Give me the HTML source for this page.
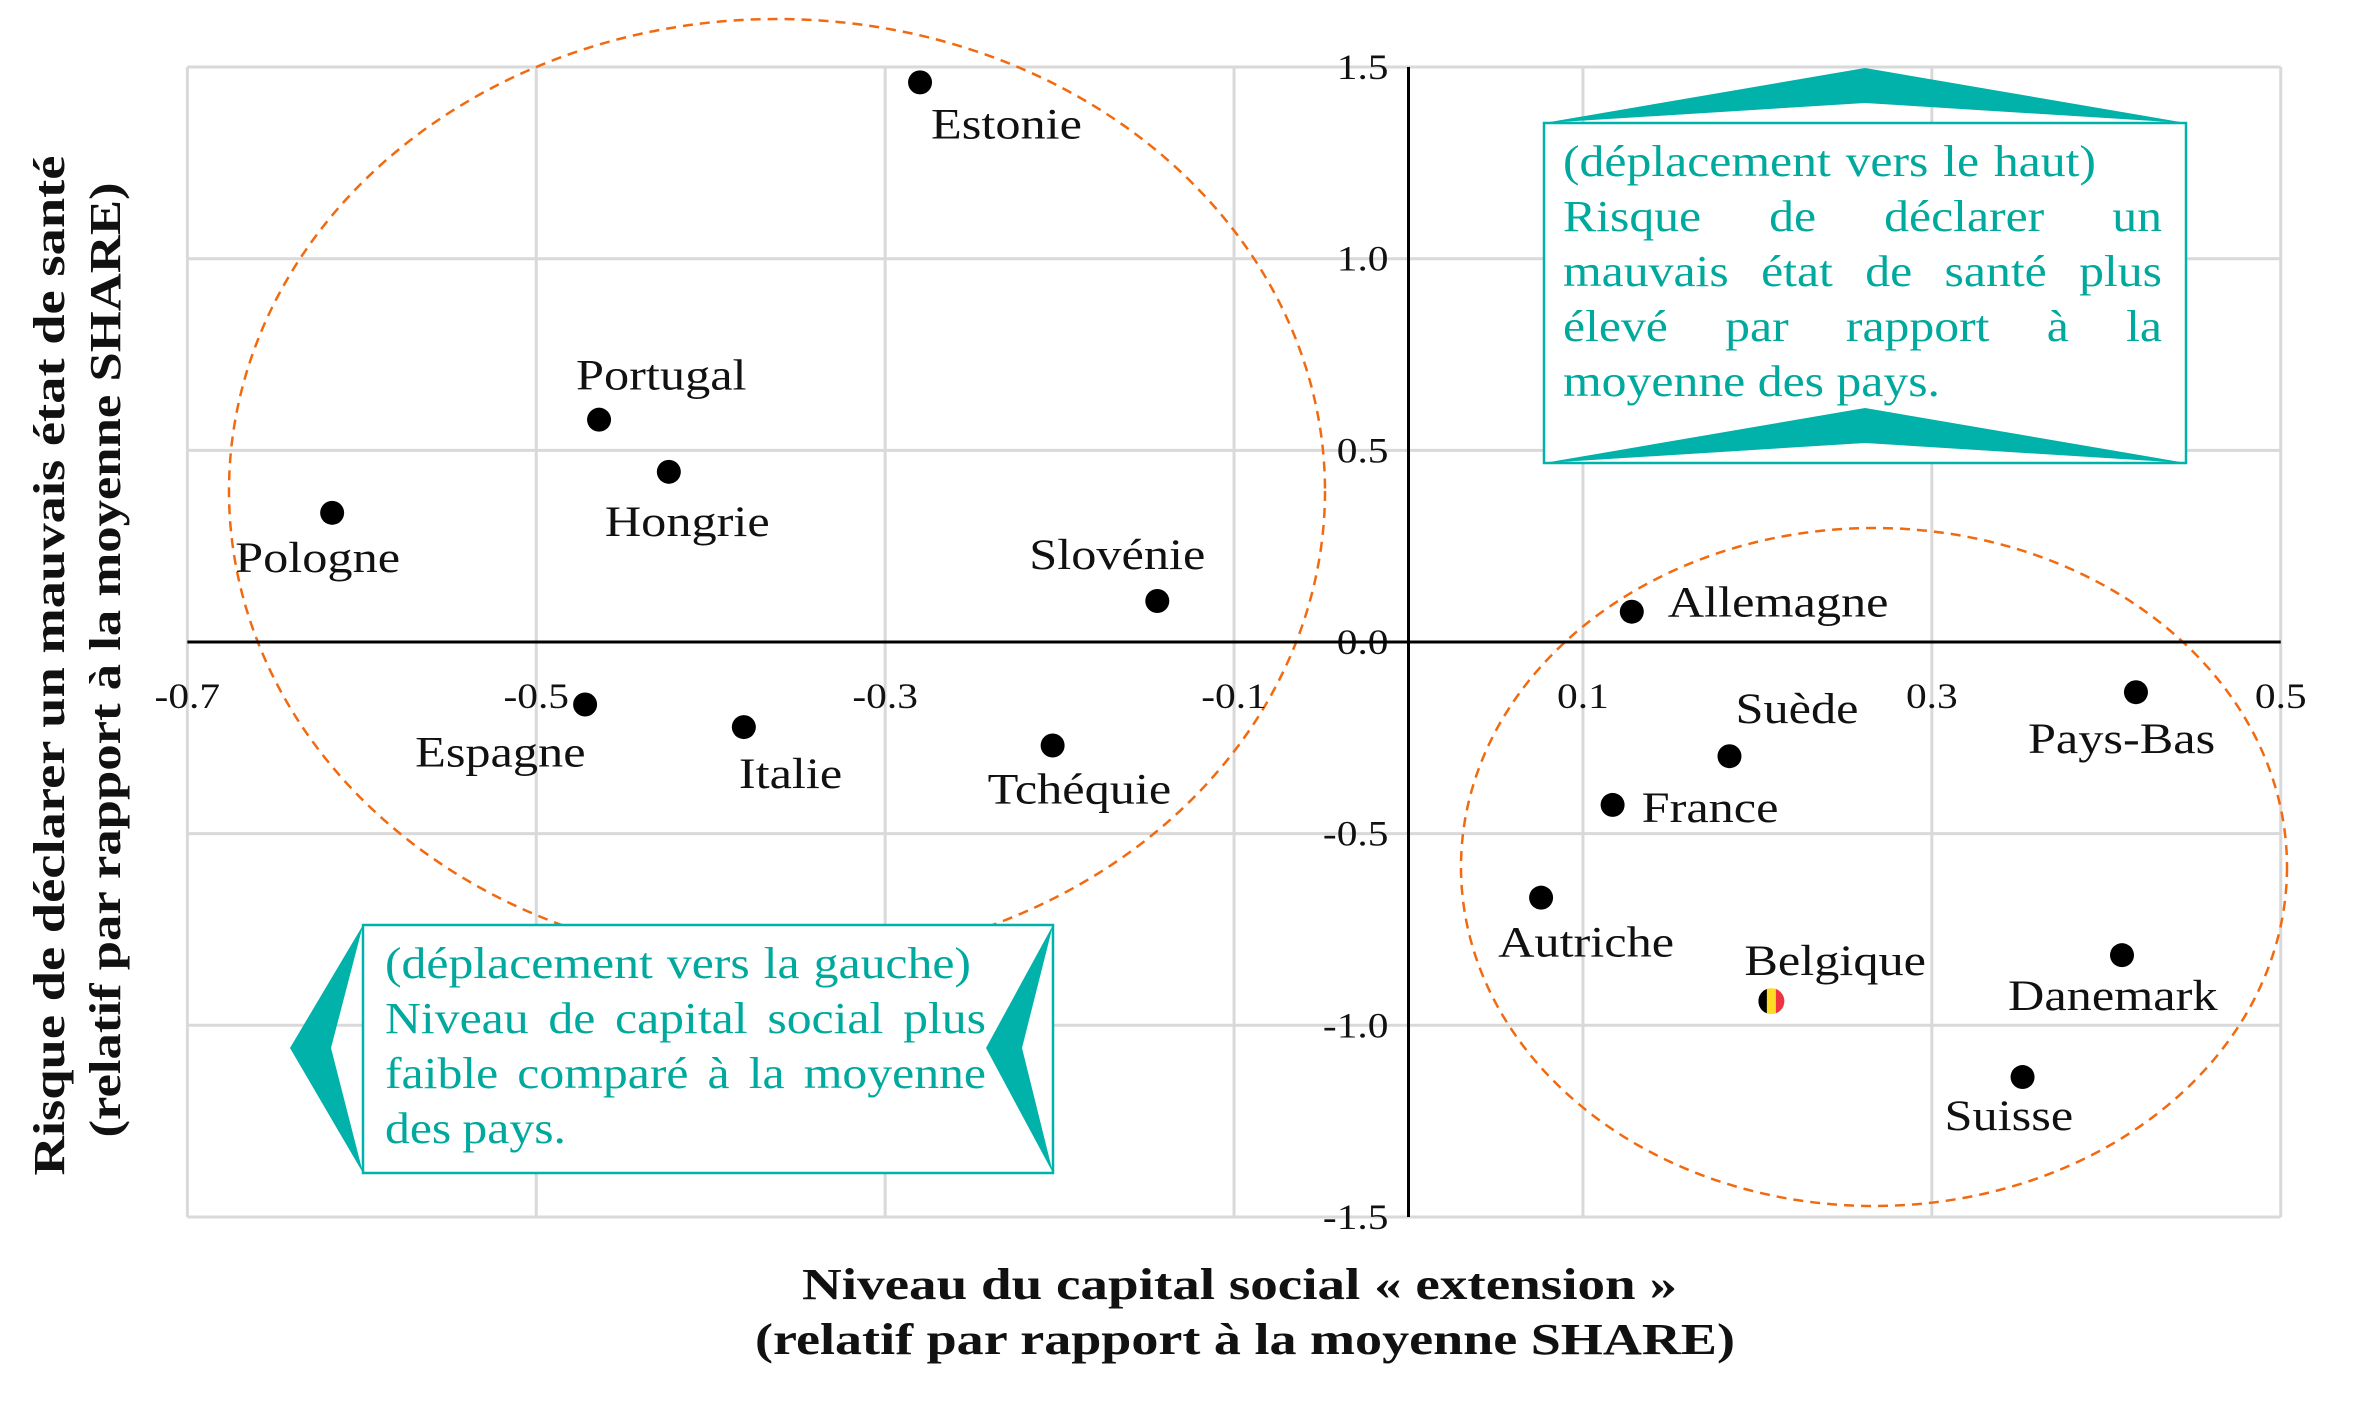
<!DOCTYPE html>
<html><head><meta charset="utf-8"><style>
html,body{margin:0;padding:0;background:#fff;}
svg{display:block;font-family:"Liberation Serif",serif;}
</style></head><body>
<svg id="chart" width="2378" height="1403" viewBox="0 0 2378 1403" xmlns="http://www.w3.org/2000/svg">
<defs><clipPath id="beclip"><circle id="beclipc" cx="0" cy="0" r="13"/></clipPath></defs>
<g id="grid"></g>
<g id="ellipses">
<ellipse cx="777" cy="491" rx="548" ry="472" fill="none" stroke="#f26a10" stroke-width="2.5" stroke-dasharray="10,7"/>
<ellipse cx="1874" cy="867" rx="413" ry="339" fill="none" stroke="#f26a10" stroke-width="2.5" stroke-dasharray="10,7"/>
</g>
<g id="axes"></g>
<g id="points"></g>

<g>
<rect x="1544" y="123" width="642" height="340" fill="#fff" stroke="#00b2a9" stroke-width="2.5"/>
<polygon points="1544,123 1865,68 2186,123 1865,103" fill="#00b2a9"/>
<polygon points="1544,463 1865,408 2186,463 1865,443" fill="#00b2a9"/>
<text id="upText" fill="#00a99d" font-size="44">
<tspan data-w="533" x="1563" y="176">(déplacement vers le haut)</tspan>
<tspan data-w="599" data-j="1" x="1563" y="231">Risque de déclarer un</tspan>
<tspan data-w="599" data-j="1" x="1563" y="286">mauvais état de santé plus</tspan>
<tspan data-w="599" data-j="1" x="1563" y="341">élevé par rapport à la</tspan>
<tspan data-w="377" x="1563" y="396">moyenne des pays.</tspan>
</text>
</g>
<g>
<rect x="363" y="925" width="690" height="248" fill="#fff" stroke="#00b2a9" stroke-width="2.5"/>
<polygon points="363,925 290,1048 363,1173 331,1048" fill="#00b2a9"/>
<polygon points="1053,925 986,1048 1053,1173 1022,1048" fill="#00b2a9"/>
<text id="leftText" fill="#00a99d" font-size="44">
<tspan data-w="586" x="385" y="978">(déplacement vers la gauche)</tspan>
<tspan data-w="601" data-j="1" x="385" y="1033">Niveau de capital social plus</tspan>
<tspan data-w="601" data-j="1" x="385" y="1088">faible comparé à la moyenne</tspan>
<tspan data-w="181" x="385" y="1143">des pays.</tspan>
</text>
</g>

<text transform="translate(64,660) rotate(-90)" text-anchor="middle" font-weight="bold" font-size="44" fill="#111">
<tspan x="0" y="0" textLength="1020" lengthAdjust="spacingAndGlyphs">Risque de déclarer un mauvais état de santé</tspan>
<tspan x="0" y="56" textLength="955" lengthAdjust="spacingAndGlyphs">(relatif par rapport à la moyenne SHARE)</tspan>
</text>
<text text-anchor="middle" font-weight="bold" font-size="44" fill="#111">
<tspan x="1245" y="1299" textLength="875" lengthAdjust="spacingAndGlyphs">Niveau du capital social « extension »</tspan>
<tspan x="1245" y="1354" textLength="980" lengthAdjust="spacingAndGlyphs">(relatif par rapport à la moyenne SHARE)</tspan>
</text>
</svg>
<script>
const countries = ["Estonie","Portugal","Hongrie","Pologne","Slovénie","Espagne","Italie","Tchéquie","Allemagne","Suède","France","Autriche","Belgique","Pays-Bas","Danemark","Suisse"];
const capitalValues = [-0.280,-0.464,-0.424,-0.617,-0.144,-0.472,-0.381,-0.204,0.128,0.184,0.117,0.076,0.208,0.417,0.409,0.352];
const healthValues = [1.46,0.58,0.444,0.337,0.107,-0.163,-0.222,-0.27,0.079,-0.298,-0.425,-0.667,-0.937,-0.131,-0.817,-1.135];
const xTicks = [-0.7,-0.5,-0.3,-0.1,0.1,0.3,0.5];
const xTickLabels = ["-0.7","-0.5","-0.3","-0.1","0.1","0.3","0.5"];
const yTicks = [1.5,1.0,0.5,0.0,-0.5,-1.0,-1.5];
const yTickLabels = ["1.5","1.0","0.5","0.0","-0.5","-1.0","-1.5"];

const labelDx = [11,-23,-64,-97,-128,-170,-5,-65,36,6,29,-43,-27,-108,-114,-78];
const labelDy = [56,-30,64,59,-32,62,61,58,5,-33,17,59,-26,61,55,53];

const NS="http://www.w3.org/2000/svg";
const X = v => 1408.5 + v*1744.5;
const Y = v => 642 - v*383.3;
const xMin=-0.7,xMax=0.5,yMin=-1.5,yMax=1.5;
function mk(tag, attrs, parent){const e=document.createElementNS(NS,tag);for(const k in attrs)e.setAttribute(k,attrs[k]);parent.appendChild(e);return e;}
function widen(t,f){try{const w=t.getComputedTextLength();t.setAttribute('textLength',w*f);t.setAttribute('lengthAdjust','spacingAndGlyphs');}catch(e){}}

// callout text: per-word layout with widened glyphs, justified lines
['upText','leftText'].forEach(id=>{
  const txt=document.getElementById(id);
  Array.from(txt.querySelectorAll('tspan')).forEach(ts=>{
    const words=ts.textContent.trim().split(/\s+/);
    const x0=+ts.getAttribute('x'), y0=ts.getAttribute('y'), W=+ts.getAttribute('data-w'), just=ts.getAttribute('data-j');
    txt.removeChild(ts);
    const f=1.13;
    const spans=words.map(w=>{const s=mk('tspan',{x:x0,y:y0},txt);s.textContent=w;return s;});
    const widths=spans.map(s=>{let w=0;try{w=s.getComputedTextLength();}catch(e){}return w*f;});
    const total=widths.reduce((a,b)=>a+b,0);
    let gap;
    if(just && words.length>1) gap=(W-total)/(words.length-1);
    else gap = words.length>1 ? (W-total)/(words.length-1) : 0;
    let x=x0;
    spans.forEach((s,i)=>{s.setAttribute('x',x);s.setAttribute('textLength',widths[i]);s.setAttribute('lengthAdjust','spacingAndGlyphs');x+=widths[i]+gap;});
  });
});

const grid=document.getElementById('grid'), axes=document.getElementById('axes'), pts=document.getElementById('points');

xTicks.forEach((t,i)=>{
  const l=mk('line',{x1:X(t),x2:X(t),y1:Y(yMax),y2:Y(yMin),stroke:'#d9d9d9','stroke-width':3},grid);
  
  
  const tx=mk('text',{x:X(t),y:Y(0)+66,'text-anchor':'middle','font-size':36,fill:'#111'},axes);
  tx.textContent=xTickLabels[i];
  
  
  widen(tx,1.15);
});
yTicks.forEach((t,i)=>{
  if(t!==0){
    const l=mk('line',{x1:X(xMin),x2:X(xMax),y1:Y(t),y2:Y(t),stroke:'#d9d9d9','stroke-width':3},grid);
    
    
  }
  const tx=mk('text',{x:X(0)-20,y:Y(t)+12,'text-anchor':'end','font-size':36,fill:'#111'},axes);
  tx.textContent=yTickLabels[i];
  
  
  widen(tx,1.15);
});
const xa=mk('line',{x1:X(xMin),x2:X(xMax),y1:Y(0),y2:Y(0),stroke:'#000','stroke-width':3},axes);


const ya=mk('line',{x1:X(0),x2:X(0),y1:Y(yMax),y2:Y(yMin),stroke:'#000','stroke-width':3},axes);



countries.forEach((c,i)=>{
  const cx=X(capitalValues[i]), cy=Y(healthValues[i]);
  if(c==="Belgique"){
    const cc=document.getElementById('beclipc'); cc.setAttribute('cx',cx); cc.setAttribute('cy',cy);
    const g=mk('g',{'clip-path':'url(#beclip)'},pts);
    
    
    mk('rect',{x:cx-13,y:cy-13,width:9,height:26,fill:'#000'},g);
    mk('rect',{x:cx-4.5,y:cy-13,width:9,height:26,fill:'#fdda24'},g);
    mk('rect',{x:cx+4.5,y:cy-13,width:9,height:26,fill:'#ef3340'},g);
  } else {
    const d=mk('circle',{cx:cx,cy:cy,r:12,fill:'#000'},pts);
    
    
  }
  const t=mk('text',{x:cx+labelDx[i],y:cy+labelDy[i],'font-size':43,fill:'#111'},pts);
  t.textContent=c;
  
  
  widen(t,1.17);
});
</script>
</body></html>
